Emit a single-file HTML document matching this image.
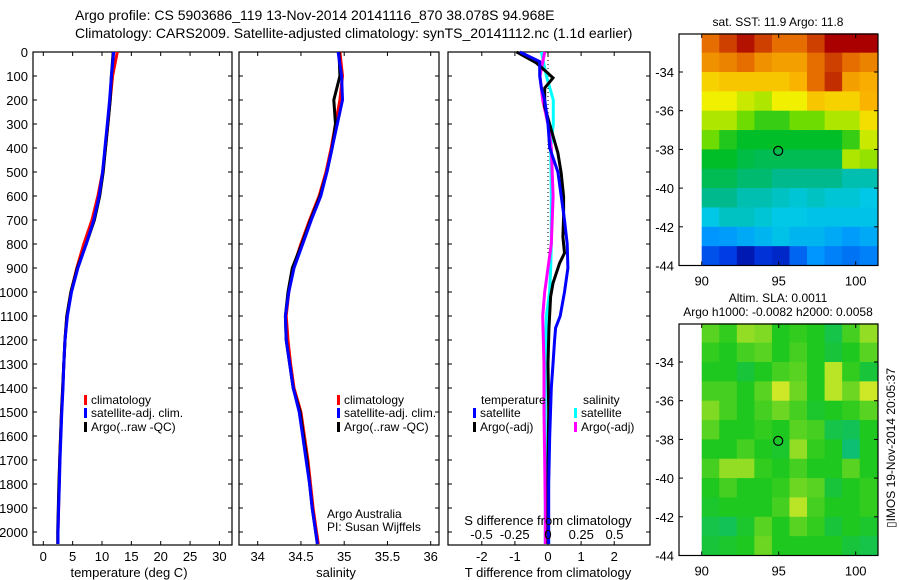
<!DOCTYPE html>
<html><head><meta charset="utf-8"><style>
body{margin:0;background:#fff;}
svg{display:block;font-family:"Liberation Sans",sans-serif;}
</style></head><body>
<svg id="c" width="900" height="580" xmlns="http://www.w3.org/2000/svg">
<rect width="900" height="580" fill="#fff"/>
<text x="75" y="20" font-size="14">Argo profile: CS 5903686_119 13-Nov-2014 20141116_870 38.078S 94.968E</text>
<text x="75" y="38" font-size="14">Climatology: CARS2009. Satellite-adjusted climatology: synTS_20141112.nc (1.1d earlier)</text>
</svg>
<script>
// ---- data ----
const depths = [0,100,200,300,400,500,600,700,800,900,1000,1100,1200,1300,1400,1500,1600,1700,1800,1900,2000,2050];
const tempClim = [12.6,11.8,11.4,11.0,10.6,10.1,9.3,8.3,6.9,5.7,4.7,4.0,3.7,3.5,3.3,3.1,2.95,2.8,2.7,2.6,2.5,2.5];
const tempSat  = [12.0,11.6,11.3,10.9,10.5,10.1,9.5,8.6,7.3,5.9,4.8,4.1,3.7,3.5,3.35,3.15,3.0,2.85,2.75,2.6,2.5,2.5];
const tempArgo = [11.9,11.6,11.4,11.0,10.6,10.2,9.6,8.7,7.3,5.8,4.7,4.0,3.7,3.5,3.3,3.1,2.95,2.8,2.65,2.55,2.45,2.45];
const salClim = [34.95,34.98,34.95,34.90,34.85,34.79,34.71,34.60,34.50,34.41,34.36,34.33,34.35,34.38,34.42,34.50,34.54,34.58,34.61,34.64,34.68,34.70];
const salSat  = [34.93,34.97,34.98,34.92,34.86,34.80,34.73,34.62,34.52,34.42,34.36,34.32,34.33,34.37,34.41,34.48,34.52,34.56,34.60,34.63,34.67,34.69];
const salArgo = [34.94,34.95,34.88,34.90,34.86,34.80,34.72,34.61,34.51,34.40,34.35,34.32,34.33,34.37,34.41,34.49,34.53,34.57,34.60,34.63,34.67,34.69];
const dTsatDepth = [0,40,100,150,200,300,400,500,600,700,800,900,1000,1100,1150,1200,1300,1400,1600,1800,2000,2050];
const dTsat = [-0.85,-0.25,-0.25,-0.2,-0.1,0,0.05,0.3,0.4,0.5,0.58,0.6,0.5,0.37,0.23,0.2,0.15,0.1,0.05,0.02,0.02,0.02];
const dTargoDepth = [0,46,82,108,150,228,325,421,505,603,686,770,838,880,963,1020,1146,1300,1500,1700,2000,2050];
const dTargo = [-0.95,-0.35,-0.05,0.15,-0.1,-0.1,0.1,0.3,0.4,0.47,0.47,0.45,0.5,0.35,0.15,0.08,0.03,0.0,0.02,0.0,0.0,0.0];
const dSDepth = [0,100,200,300,400,600,800,900,1000,1100,1300,1500,1700,1900,2050];
const dSsat = [-0.05,-0.012,0.04,0.04,0.02,0.025,0.025,0.02,0.012,-0.012,-0.02,-0.02,-0.02,-0.02,-0.02];
const dSargo = [-0.025,-0.06,-0.04,0,0.025,0.038,0.025,0,-0.025,-0.04,-0.03,-0.03,-0.025,-0.02,-0.02];
const depthTicks = [0,100,200,300,400,500,600,700,800,900,1000,1100,1200,1300,1400,1500,1600,1700,1800,1900,2000];
const tempTicks = [0,5,10,15,20,25,30];
const salTicks = [34,34.5,35,35.5,36];
const salTickLabels = ["34","34.5","35","35.5","36"];
const dTTicks = [-2,-1,0,1,2];
const dSTicks = [-0.5,-0.25,0,0.25,0.5];
const dSTickLabels = ["-0.5","-0.25","0","0.25","0.5"];
const latTicks = [-34,-36,-38,-40,-42,-44];
const lonTicks = [90,95,100];
const sstGrid = [
[0.85,0.9,0.95,0.9,0.85,0.85,0.9,0.97,0.97,0.97],
[0.8,0.82,0.85,0.8,0.78,0.78,0.85,0.9,0.85,0.82],
[0.7,0.72,0.72,0.72,0.72,0.75,0.85,0.92,0.78,0.76],
[0.65,0.65,0.62,0.6,0.65,0.65,0.72,0.7,0.7,0.75],
[0.6,0.6,0.55,0.5,0.5,0.55,0.55,0.6,0.6,0.68],
[0.55,0.48,0.45,0.45,0.45,0.45,0.45,0.45,0.5,0.62],
[0.45,0.45,0.43,0.42,0.42,0.42,0.42,0.42,0.6,0.58],
[0.42,0.42,0.4,0.4,0.38,0.38,0.38,0.38,0.36,0.36],
[0.38,0.38,0.36,0.36,0.35,0.34,0.35,0.34,0.34,0.33],
[0.33,0.35,0.35,0.34,0.33,0.33,0.32,0.32,0.32,0.32],
[0.25,0.26,0.28,0.3,0.32,0.3,0.3,0.28,0.26,0.28],
[0.15,0.12,0.05,0.1,0.08,0.18,0.25,0.22,0.2,0.22]];
const slaGrid = [
[0.3,0.1,0.6,0.5,0,0.1,0,-0.3,0.2,0.6],
[0.1,0,0.2,0.3,0,0.2,0,-0.2,0,0.3],
[0,0,-0.2,0,0.2,0.3,0,0.8,0.1,-0.2],
[0.2,0.2,0,0.3,0.9,0.4,0,0.8,0.4,0.9],
[0.5,0.2,0,0.2,0.4,0.2,-0.1,0,0.1,0.3],
[0.3,0,0,0.1,0,0.3,0.2,-0.3,-0.4,0],
[0,0,0.2,0,-0.1,0.6,0.1,0,-0.6,0],
[0.2,0.6,0.6,0.1,0,0.2,0,0,0.3,0],
[0,0.2,0,0,0.1,0.4,0.3,-0.2,0,0.1],
[-0.1,0,0,0,0.2,0.8,0.2,0,0,0.1],
[-0.3,-0.4,-0.1,0.3,0,0.3,0.1,-0.2,0,-0.1],
[-0.2,-0.1,0,0.4,0,0,0,0,-0.2,-0.3]];
const argoLon = 94.968, argoLat = -38.078;

// ---- helpers ----
const NS="http://www.w3.org/2000/svg", svg=document.getElementById('c');
function mk(tag,attrs,parent){const e=document.createElementNS(NS,tag);for(const k in attrs)e.setAttribute(k,attrs[k]);(parent||svg).appendChild(e);return e;}
function txt(x,y,s,anchor,size,parent){const t=mk('text',{x:x,y:y,'font-size':size||13,'text-anchor':anchor||'start'},parent);t.textContent=s;return t;}
const Y0=52, Ypx=0.24; const yD=d=>Y0+d*Ypx; const YB=545;
const xT=v=>43.3+v*5.87;
const xS=v=>257.7+(v-34)*86.5;
const xdT=v=>548+v*33.1;
const xdS=v=>548+v*133;

function frame(x0,x1,name){const r=mk('rect',{x:x0,y:Y0,width:x1-x0,height:YB-Y0,fill:'none',stroke:'#000','stroke-width':1.2});
  depthTicks.forEach(d=>{mk('line',{x1:x0,x2:x0+4,y1:yD(d),y2:yD(d),stroke:'#000'});mk('line',{x1:x1,x2:x1-4,y1:yD(d),y2:yD(d),stroke:'#000'});});}
function xticks(vals,fx,labels,ly){vals.forEach((v,i)=>{const x=fx(v);mk('line',{x1:x,x2:x,y1:Y0,y2:Y0+4,stroke:'#000'});mk('line',{x1:x,x2:x,y1:YB,y2:YB-4,stroke:'#000'});
  const t=txt(x,ly,labels?labels[i]:String(v),'middle');});}
function line(ds,vs,fx,color,name){const p=mk('polyline',{points:ds.map((d,i)=>fx(vs[i]).toFixed(1)+','+yD(d).toFixed(1)).join(' '),fill:'none',stroke:color,'stroke-width':3});
  }
function legend(x,y,color,label){const r=mk('rect',{x:x,y:y-9,width:3,height:10,fill:color});
  const t=txt(x+7,y,label,'start',12);}

// panel 1
frame(33,232,'temperature-panel');
depthTicks.forEach(d=>{const t=txt(28,yD(d)+5,String(d),'end');});
xticks(tempTicks,xT,null,561);
line(depths,tempClim,xT,'#f00','temp-climatology-line');
line(depths,tempArgo,xT,'#000','temp-argo-line');
line(depths,tempSat,xT,'#00f','temp-satellite-line');
let t=txt(129,577,'temperature (deg C)','middle');
legend(84,404,'#f00','climatology');legend(84,417,'#00f','satellite-adj. clim.');legend(84,431,'#000','Argo(..raw -QC)');

// panel 2
frame(239,439,'salinity-panel');
xticks(salTicks,xS,salTickLabels,561);
line(depths,salClim,xS,'#f00','sal-climatology-line');
line(depths,salArgo,xS,'#000','sal-argo-line');
line(depths,salSat,xS,'#00f','sal-satellite-line');
t=txt(336,577,'salinity','middle');
legend(337,404,'#f00','climatology');legend(337,417,'#00f','satellite-adj. clim.');legend(337,431,'#000','Argo(..raw -QC)');
t=txt(327,518,'Argo Australia','start',12);
t=txt(327,531,'PI: Susan Wijffels','start',12);

// panel 3
frame(448,650,'difference-panel');
xticks(dTTicks,xdT,null,561);
mk('line',{x1:xdT(0),x2:xdT(0),y1:yD(0),y2:yD(850),stroke:'#000','stroke-dasharray':'1,3'});
line(dSDepth,dSsat,xdS,'#0ff','sal-diff-satellite-line');
line(dSDepth,dSargo,xdS,'#f0f','sal-diff-argo-line');
line(dTargoDepth,dTargo,xdT,'#000','temp-diff-argo-line');
line(dTsatDepth,dTsat,xdT,'#00f','temp-diff-satellite-line');
dSTicks.forEach((v,i)=>{const tt=txt(xdS(v),539,dSTickLabels[i],'middle');});
t=txt(548,525,'S difference from climatology','middle');
t=txt(548,577,'T difference from climatology','middle');
t=txt(481,404,'temperature','start',12);
t=txt(583,404,'salinity','start',12);
legend(473,417,'#00f','satellite');legend(473,431,'#000','Argo(-adj)');
legend(574,417,'#0ff','satellite');legend(574,431,'#f0f','Argo(-adj)');

// ---- maps ----
const stops=[[0,[0,0,140]],[0.12,[0,60,230]],[0.25,[0,150,255]],[0.33,[0,200,230]],[0.38,[0,185,140]],[0.45,[0,190,40]],[0.55,[110,220,0]],[0.65,[240,240,0]],[0.75,[250,180,0]],[0.85,[230,110,0]],[0.97,[170,0,0]],[1,[160,0,0]]];
function sstCol(v){v=Math.max(0,Math.min(1,v));for(let i=1;i<stops.length;i++){if(v<=stops[i][0]){const a=stops[i-1],b=stops[i],f=(v-a[0])/(b[0]-a[0]);
  return 'rgb('+a[1].map((x,k)=>Math.round(x+(b[1][k]-x)*f)).join(',')+')';}}return 'rgb(160,0,0)';}
function slaCol(v){let a,b,f;if(v<0){a=[0,185,170];b=[30,200,30];f=v+1;}else{a=[30,200,30];b=[225,235,40];f=v;}
  return 'rgb('+a.map((x,i)=>Math.round(x+(b[i]-x)*f)).join(',')+')';}
function map(top,grid,colf,name){
  const lon=v=>701.7+(v-90)*15.4, lat=v=>top+38+(-34-v)*19.35;
  const g=mk('g',{});
  const lonMax=101.4, nC=grid[0].length, dLon=(lonMax-90)/nC;
  grid.forEach((row,r)=>row.forEach((v,c)=>{const cell=mk('rect',{x:lon(90+c*dLon),y:lat(-32-r),width:15.4*dLon+0.5,height:19.85,fill:colf(v)},g);
    }));
  const fr=mk('rect',{x:679,y:top,width:199,height:lat(-44)-top,fill:'none',stroke:'#000','stroke-width':1.2});
  
  latTicks.forEach(v=>{mk('line',{x1:679,x2:683,y1:lat(v),y2:lat(v),stroke:'#000'});mk('line',{x1:878,x2:874,y1:lat(v),y2:lat(v),stroke:'#000'});
    const tt=txt(674,lat(v)+5,String(v),'end');});
  lonTicks.forEach(v=>{mk('line',{x1:lon(v),x2:lon(v),y1:top,y2:top+4,stroke:'#000'});mk('line',{x1:lon(v),x2:lon(v),y1:lat(-44),y2:lat(-44)-4,stroke:'#000'});
    const tt=txt(lon(v),lat(-44)+20,String(v),'middle');});
  const m=mk('circle',{cx:lon(argoLon),cy:lat(argoLat),r:4.5,fill:'none',stroke:'#000','stroke-width':1.2});
  
}
map(34,sstGrid,sstCol,'sst-map');
map(324,slaGrid,slaCol,'sla-map');
t=txt(778,26,'sat. SST: 11.9 Argo: 11.8','middle',12);
t=txt(778,302,'Altim. SLA: 0.0011','middle',12);
t=txt(778,316,'Argo h1000: -0.0082 h2000: 0.0058','middle',12);
t=txt(0,0,'▯IMOS 19-Nov-2014 20:05:37','middle',12);t.setAttribute('transform','translate(895,448) rotate(-90)');

</script>
</body></html>
